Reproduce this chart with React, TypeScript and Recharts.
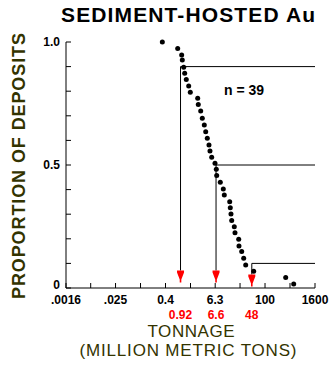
import React from "react";
import { ReferenceLine, Scatter, ScatterChart, XAxis, YAxis } from "recharts";

// tonnage (million metric tons) of each deposit
const tonnage = [
  0.335, 0.786, 0.981, 1.015, 1.097, 1.159, 1.267, 1.447, 1.582, 2.385, 2.465, 2.817, 3.078,
  3.44, 3.718, 4.063, 4.464, 4.719, 5.185, 6.228, 6.692, 6.843, 8.356, 9.87, 10.43, 14.08,
  14.55, 15.13, 15.73, 18.17, 18.89, 23.2, 23.59, 27.4, 30.61, 34.2, 53.32, 314.7, 490.6,
];
// cumulative proportion of deposits
const proportion = [
  1.0, 0.974, 0.947, 0.927, 0.897, 0.873, 0.848, 0.821, 0.796, 0.771, 0.746, 0.72, 0.69,
  0.663, 0.635, 0.609, 0.581, 0.557, 0.531, 0.507, 0.483, 0.457, 0.43, 0.402, 0.378, 0.351,
  0.326, 0.301, 0.274, 0.249, 0.225, 0.198, 0.171, 0.148, 0.121, 0.093, 0.068, 0.043, 0.016,
];

// 90th, 50th and 10th percentile tonnages
const cutTonnage = [0.92, 6.6, 48];
const cutLabels = ["0.92", "6.6", "48"];
const cutProportion = [0.9, 0.5, 0.1];
const arrowProportion = [0.071, 0.071, 0.055];

const xTicks = [0.0016, 0.0063, 0.025, 0.1, 0.4, 1.6, 6.3, 25, 100, 400, 1600];
const xTickLabels: Record<number, string> = {
  0.0016: ".0016",
  0.025: ".025",
  0.4: "0.4",
  6.3: "6.3",
  100: "100",
  1600: "1600",
};
const yTicks = [0, 0.1, 0.2, 0.3, 0.4, 0.5, 0.6, 0.7, 0.8, 0.9, 1];
const yTickLabels: Record<number, string> = { 0: "0", 0.5: "0.5", 1: "1.0" };

const FONT = "'Liberation Sans', Arial, sans-serif";
const OLIVE = "#333300";

const points = tonnage.map((x, i) => ({ x, y: proportion[i] }));
const arrows = cutTonnage.map((x, i) => ({ x, y: arrowProportion[i], label: cutLabels[i] }));

function BottomTick({ x, y, payload }: any) {
  const label = xTickLabels[payload.value];
  return (
    <g>
      <line x1={x} y1={y} x2={x} y2={y - 5} stroke="#000" />
      {label && (
        <text x={x} y={y + 16} textAnchor="middle" fontSize={12} fontWeight="bold" fontFamily={FONT} fill="#000">
          {label}
        </text>
      )}
    </g>
  );
}

function TopTick({ x, y }: any) {
  return <line x1={x} y1={y} x2={x} y2={y + 5} stroke="#000" />;
}

function LeftTick({ x, y, payload }: any) {
  const label = yTickLabels[payload.value];
  // the zero label sits a little higher so it clears the x tick labels
  const dy = payload.value === 0 ? 1 : 4;
  return (
    <g>
      <line x1={x} y1={y} x2={x + 5} y2={y} stroke="#000" />
      {label && (
        <text x={x - 6} y={y + dy} textAnchor="end" fontSize={12} fontWeight="bold" fontFamily={FONT} fill="#000">
          {label}
        </text>
      )}
    </g>
  );
}

function RightTick({ x, y }: any) {
  return <line x1={x} y1={y} x2={x - 5} y2={y} stroke="#000" />;
}

function Dot({ cx, cy }: any) {
  return <circle cx={cx} cy={cy} r={2.5} fill="#000" />;
}

function Arrow({ cx, cy, payload }: any) {
  const pts = [
    [cx - 3.5, cy],
    [cx + 3.5, cy],
    [cx + 3.5, cy + 2],
    [cx + 0.8, cy + 9],
    [cx + 0.8, cy + 12],
    [cx - 0.8, cy + 12],
    [cx - 0.8, cy + 9],
    [cx - 3.5, cy + 2],
  ]
    .map((p) => p.join(","))
    .join(" ");
  return (
    <g>
      <polygon points={pts} fill="#ff0000" />
      <text x={cx} y={319} textAnchor="middle" fontSize={12} fontWeight="bold" fontFamily={FONT} fill="#ff0000">
        {payload.label}
      </text>
    </g>
  );
}

export default function App() {
  return (
    <div style={{ position: "absolute", left: 0, top: 0, width: 334, height: 366, background: "#fff" }}>
      <ScatterChart width={334} height={366} margin={{ top: 42, right: 19, bottom: 48, left: 26 }}>
        <XAxis
          dataKey="x"
          type="number"
          scale="log"
          domain={[0.0016, 1600]}
          allowDataOverflow
          ticks={xTicks}
          interval={0}
          height={30}
          tickSize={0}
          tickMargin={0}
          tickLine={false}
          axisLine={{ stroke: "#000" }}
          tick={(p: any) => <BottomTick {...p} />}
        />
        <XAxis
          xAxisId="top"
          orientation="top"
          dataKey="x"
          type="number"
          scale="log"
          domain={[0.0016, 1600]}
          allowDataOverflow
          ticks={xTicks}
          interval={0}
          height={0}
          tickSize={0}
          tickMargin={0}
          tickLine={false}
          axisLine={{ stroke: "#000" }}
          tick={(p: any) => <TopTick {...p} />}
        />
        <YAxis
          dataKey="y"
          type="number"
          domain={[0, 1]}
          ticks={yTicks}
          interval={0}
          width={40}
          tickSize={0}
          tickMargin={0}
          tickLine={false}
          axisLine={{ stroke: "#000" }}
          tick={(p: any) => <LeftTick {...p} />}
        />
        <YAxis
          yAxisId="right"
          orientation="right"
          type="number"
          domain={[0, 1]}
          ticks={yTicks}
          interval={0}
          width={0}
          tickSize={0}
          tickMargin={0}
          tickLine={false}
          axisLine={{ stroke: "#000" }}
          tick={(p: any) => <RightTick {...p} />}
        />
        {cutTonnage.map((x, i) => (
          <ReferenceLine
            key={`h${i}`}
            segment={[
              { x, y: cutProportion[i] },
              { x: 1600, y: cutProportion[i] },
            ]}
            stroke="#000"
            strokeWidth={1}
          />
        ))}
        {cutTonnage.map((x, i) => (
          <ReferenceLine
            key={`v${i}`}
            segment={[
              { x, y: cutProportion[i] },
              { x, y: arrowProportion[i] },
            ]}
            stroke="#000"
            strokeWidth={1}
          />
        ))}
        <Scatter data={points} shape={(p: any) => <Dot {...p} />} isAnimationActive={false} />
        <Scatter data={arrows} shape={(p: any) => <Arrow {...p} />} isAnimationActive={false} />
      </ScatterChart>
      <svg width={334} height={366} style={{ position: "absolute", left: 0, top: 0, pointerEvents: "none" }}>
        <text x={188} y={22} textAnchor="middle" fontSize={21} fontWeight="bold" fontFamily={FONT} fill="#000" textLength={254} lengthAdjust="spacing">
          SEDIMENT-HOSTED Au
        </text>
        <text
          x={25}
          y={166}
          transform="rotate(-90 25 166)"
          textAnchor="middle"
          fontSize={18}
          fontWeight="bold"
          fontFamily={FONT}
          fill={OLIVE}
          textLength={266}
          lengthAdjust="spacing"
        >
          PROPORTION OF DEPOSITS
        </text>
        <text x={244} y={95} textAnchor="middle" fontSize={14} fontWeight="bold" fontFamily={FONT} fill="#000">
          n = 39
        </text>
        <text x={191} y={337} textAnchor="middle" fontSize={17} fontFamily={FONT} fill={OLIVE} textLength={87} lengthAdjust="spacing">
          TONNAGE
        </text>
        <text x={188} y={356} textAnchor="middle" fontSize={17} fontFamily={FONT} fill={OLIVE} textLength={217} lengthAdjust="spacing">
          (MILLION METRIC TONS)
        </text>
      </svg>
    </div>
  );
}
